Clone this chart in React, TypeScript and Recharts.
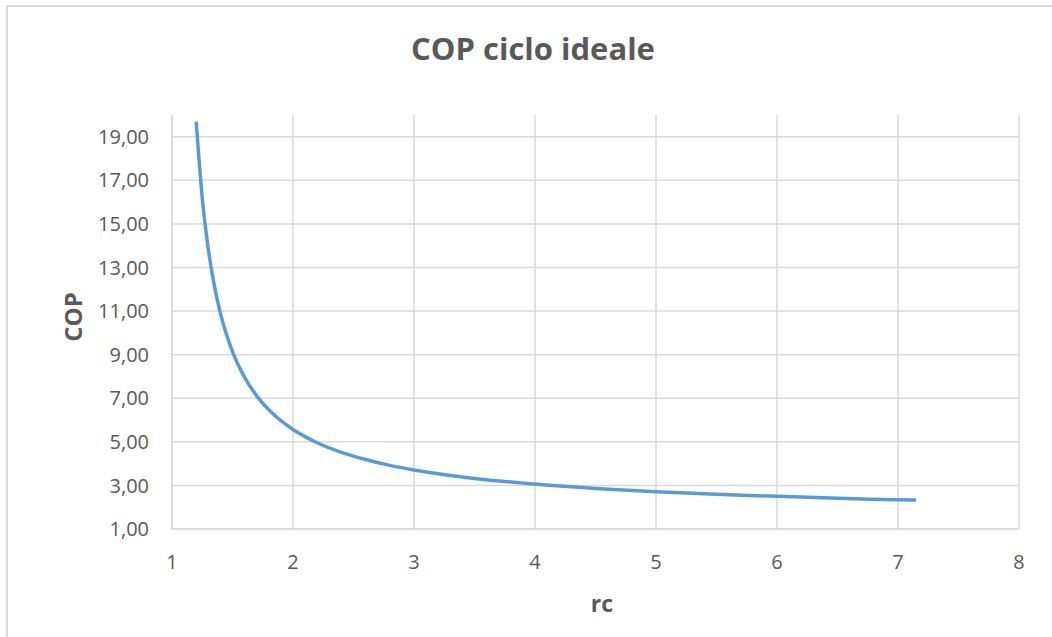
import { CartesianGrid, Line, LineChart, XAxis, YAxis } from 'recharts';

// compression ratio (rc) and ideal-cycle COP
const rcValues = [1.2, 1.25, 1.3, 1.35, 1.4, 1.5, 1.6, 1.7, 1.8, 1.9, 2.0, 2.2, 2.4, 2.6, 2.8, 3.0, 3.5, 4.0, 4.5, 5.0, 5.5, 6.0, 6.5, 7.0, 7.15];
const copValues = [19.7, 16.19, 13.85, 12.17, 10.91, 9.14, 7.96, 7.11, 6.47, 5.97, 5.57, 4.96, 4.52, 4.19, 3.92, 3.71, 3.32, 3.06, 2.86, 2.71, 2.59, 2.5, 2.41, 2.34, 2.33];
const xTicks = [1, 2, 3, 4, 5, 6, 7, 8];
const yTicks = [1, 3, 5, 7, 9, 11, 13, 15, 17, 19];

const data = rcValues.map((rc, i) => ({ rc, cop: copValues[i] }));

const FONT = '"Open Sans", "Noto Sans", sans-serif';
const TEXT = '#595959';
const GRID = '#d9d9d9';

export default function App() {
  return (
    <div style={{ position: 'absolute', left: 0, top: 0, width: 1052, height: 637, overflow: 'hidden', background: '#fff', fontFamily: FONT }}>
      <div style={{ position: 'absolute', left: 6, top: 5, width: 1100, height: 700, border: `2px solid ${GRID}` }} />
      <div
        style={{
          position: 'absolute',
          left: 533,
          top: 48,
          transform: 'translate(-50%, -50%)',
          whiteSpace: 'nowrap',
          fontSize: 31,
          fontWeight: 700,
          color: TEXT,
        }}
      >
        COP ciclo ideale
      </div>
      <div
        style={{
          position: 'absolute',
          left: 72,
          top: 317,
          transform: 'translate(-50%, -50%) rotate(-90deg)',
          fontSize: 24,
          fontWeight: 700,
          color: TEXT,
        }}
      >
        COP
      </div>
      <div style={{ position: 'absolute', left: 602, top: 603, transform: 'translate(-50%, -50%)', fontSize: 23, fontWeight: 700, color: TEXT }}>
        rc
      </div>
      <LineChart width={1052} height={637} data={data} margin={{ top: 115, right: 33, bottom: 48, left: 0 }} style={{ position: 'absolute', left: 0, top: 0 }}>
        <CartesianGrid stroke={GRID} strokeWidth={1.5} verticalValues={xTicks} horizontalValues={yTicks} />
        <XAxis
          dataKey="rc"
          type="number"
          domain={[1, 8]}
          ticks={xTicks}
          height={60}
          tickLine={false}
          tickMargin={20}
          axisLine={{ stroke: GRID, strokeWidth: 1.5 }}
          tick={{ fill: TEXT, fontSize: 20, fontFamily: FONT }}
        />
        <YAxis
          type="number"
          domain={[1, 20]}
          ticks={yTicks}
          width={172}
          tickLine={false}
          tickMargin={17}
          axisLine={{ stroke: GRID, strokeWidth: 1.5 }}
          tick={{ fill: TEXT, fontSize: 20, fontFamily: FONT }}
          tickFormatter={(v: number) => v.toFixed(2).replace('.', ',')}
        />
        <Line type="monotone" dataKey="cop" stroke="#5b9bd5" strokeWidth={3.5} dot={false} isAnimationActive={false} />
      </LineChart>
    </div>
  );
}
